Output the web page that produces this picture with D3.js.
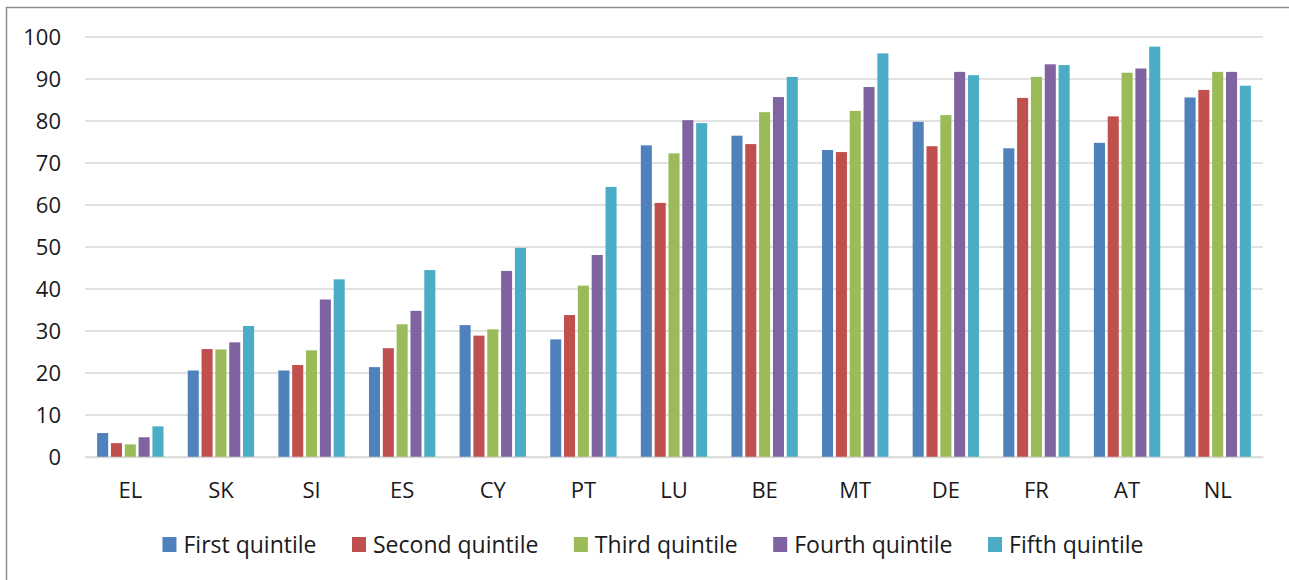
<!DOCTYPE html>
<html>
<head>
<meta charset="utf-8">
<script src="https://cdn.jsdelivr.net/npm/d3@7"></script>
<style>
  html, body { margin: 0; padding: 0; background: #fff; }
  svg { display: block; }
  text { font-family: "Open Sans", Lato, sans-serif; fill: #1a1a1a; }
</style>
</head>
<body>
<svg id="chart" width="1289" height="580"></svg>
<script>
const categories = ["EL","SK","SI","ES","CY","PT","LU","BE","MT","DE","FR","AT","NL"];
const seriesNames = ["First quintile","Second quintile","Third quintile","Fourth quintile","Fifth quintile"];
const firstQuintile  = [5.7, 20.6, 20.6, 21.4, 31.4, 28.0, 74.2, 76.5, 73.1, 79.8, 73.5, 74.8, 85.6];
const secondQuintile = [3.3, 25.7, 21.9, 25.9, 28.9, 33.8, 60.5, 74.5, 72.6, 74.0, 85.5, 81.1, 87.4];
const thirdQuintile  = [3.0, 25.6, 25.4, 31.6, 30.4, 40.8, 72.3, 82.1, 82.4, 81.4, 90.5, 91.5, 91.7];
const fourthQuintile = [4.7, 27.3, 37.5, 34.8, 44.3, 48.1, 80.2, 85.7, 88.1, 91.7, 93.5, 92.5, 91.7];
const fifthQuintile  = [7.3, 31.2, 42.3, 44.5, 49.8, 64.3, 79.5, 90.5, 96.1, 90.9, 93.3, 97.7, 88.4];
const yTicks = [0,10,20,30,40,50,60,70,80,90,100];
const colors = ["#4F81BD","#C0504D","#9BBB59","#8064A2","#4BACC6"];

const seriesValues = [firstQuintile, secondQuintile, thirdQuintile, fourthQuintile, fifthQuintile];

const svg = d3.select("#chart");
const plotLeft = 85, plotRight = 1263, plotTop = 37, plotBottom = 457;
const FONT = "'Open Sans', Lato, sans-serif";

// outer frame
svg.append("rect").attr("x", 6.5).attr("y", 7.5).attr("width", 1400).attr("height", 700)
  .attr("fill", "none").attr("stroke", "#8c8c8c").attr("stroke-width", 1.5);

const y = d3.scaleLinear().domain([0, 100]).range([plotBottom, plotTop]);
const x0 = d3.scaleBand().domain(categories).range([plotLeft, plotRight]).paddingInner(0.237).paddingOuter(0.1185);
const x1 = d3.scaleBand().domain(seriesNames).range([0, x0.bandwidth()]).paddingInner(0.2).paddingOuter(0.1);

// gridlines
svg.append("g").selectAll("line").data(yTicks).join("line")
  .attr("x1", plotLeft).attr("x2", plotRight)
  .attr("y1", d => y(d)).attr("y2", d => y(d))
  .attr("stroke", "#d9d9d9").attr("stroke-width", 1.5);

// y axis labels
const yAxis = d3.axisLeft(y).tickValues(yTicks).tickSize(0).tickPadding(0).tickFormat(d3.format("d"));
const yg = svg.append("g").attr("transform", `translate(${61},0)`).call(yAxis);
yg.select(".domain").remove();
yg.selectAll("text").attr("font-size", 22).attr("fill", "#1a1a1a").style("font-family", FONT);

// bars
const groups = svg.append("g").selectAll("g").data(categories).join("g")
  .attr("transform", c => `translate(${x0(c)},0)`);
groups.selectAll("rect")
  .data((c, i) => seriesNames.map((s, k) => ({ s, k, v: seriesValues[k][i] })))
  .join("rect")
  .attr("x", d => x1(d.s))
  .attr("width", x1.bandwidth())
  .attr("y", d => y(d.v))
  .attr("height", d => y(0) - y(d.v))
  .attr("fill", d => colors[d.k]);

// x axis
const xAxis = d3.axisBottom(x0).tickSize(0).tickPadding(0);
const xg = svg.append("g").attr("transform", `translate(0,${plotBottom})`).call(xAxis);
xg.select(".domain").attr("stroke", "#d9d9d9").attr("stroke-width", 1.5);
xg.selectAll("text").attr("font-size", 22).attr("y", 41).attr("dy", 0).attr("fill", "#1a1a1a").style("font-family", FONT);

// legend
const legend = svg.append("g");
const items = legend.selectAll("g").data(seriesNames).join("g");
items.append("rect").attr("width", 14).attr("height", 15).attr("y", -16)
  .attr("fill", (d, i) => colors[i]);
items.append("text").attr("x", 21).attr("y", 0).attr("font-size", 23).style("font-family", FONT).text(d => d);
let widths = [];
items.each(function() { widths.push(this.getBBox().width); });
const gap = 35.5;
const total = d3.sum(widths) + gap * (widths.length - 1);
let cx = 653 - total / 2;
items.attr("transform", (d, i) => {
  const t = `translate(${cx},553)`;
  cx += widths[i] + gap;
  return t;
});
</script>
</body>
</html>
